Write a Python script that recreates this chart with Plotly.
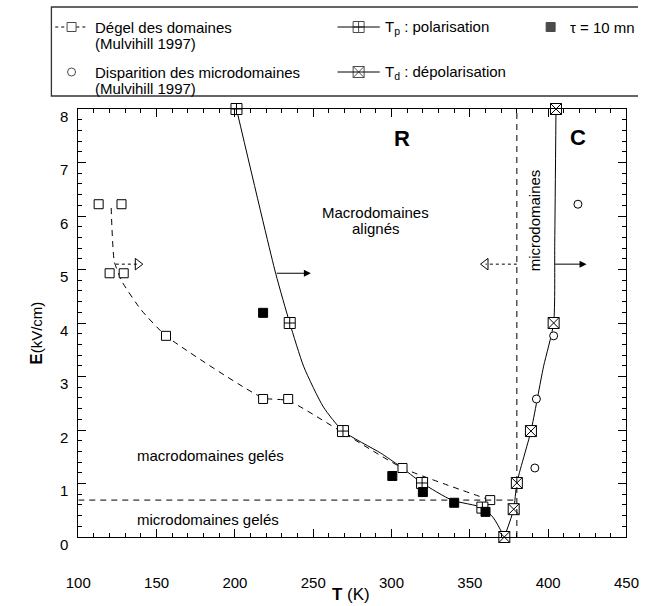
import plotly.graph_objects as go

FONT = "Liberation Sans, Arial, Helvetica, sans-serif"

# ---------------- data ----------------
# Dégel des domaines (Mulvihill 1997): open squares and the dashed guide curve
degel_T = [113, 127.6, 120, 129, 156, 218, 234, 307, 363]
degel_E = [6.22, 6.22, 4.93, 4.93, 3.76, 2.58, 2.58, 1.29, 0.69]
degel_curve_T = [121, 123, 128, 140, 156, 218, 234, 269, 307, 363]
degel_curve_E = [6.15, 5.15, 4.77, 4.25, 3.76, 2.60, 2.55, 1.95, 1.29, 0.69]

# Disparition des microdomaines (Mulvihill 1997): open circles
micro_T = [419, 403.5, 392.5, 391.5]
micro_E = [6.22, 3.76, 2.58, 1.29]

# Tp : polarisation
tp_T = [201, 235, 269, 319.5, 358]
tp_E = [8.0, 4.0, 1.98, 1.01, 0.55]
tp_curve_T = [201, 226, 235, 244, 256.5, 269, 293, 305, 319.5, 338.5, 358, 365, 372]
tp_curve_E = [8.0, 4.93, 4.0, 3.18, 2.43, 1.98, 1.57, 1.33, 1.01, 0.69, 0.55, 0.36, 0.0]

# Td : dépolarisation
td_T = [372, 378, 380, 389, 403.5, 405]
td_E = [0.0, 0.52, 1.01, 1.98, 4.0, 8.0]
td_curve_T = [372, 378, 380, 389, 397, 403.5, 404.2, 405]
td_curve_E = [0.0, 0.52, 1.01, 1.98, 3.18, 4.0, 5.5, 8.0]

# tau = 10 mn: filled squares
tau_T = [218, 300.5, 320, 340, 360]
tau_E = [4.19, 1.14, 0.84, 0.64, 0.47]

# region boundaries
E_frozen_micro = 0.69      # microdomaines gelés / macrodomaines gelés
T_micro_limit = 380        # vertical limit of the microdomain region

# arrows (start T, end T, E)
arrow_solid = [(225.7, 248.5, 4.93), (403.5, 424.5, 5.10)]
arrow_dotted = [(124, 138, 5.10), (380, 360, 5.10)]

T_TICKS = [100, 150, 200, 250, 300, 350, 400, 450]
E_TICKS = [0, 1, 2, 3, 4, 5, 6, 7, 8]

# ---------------- figure geometry (pixels) ----------------
W, H = 651, 606
PX_L, PX_R, PX_T, PX_B = 68, 639, 109, 537

fig = go.Figure()

# guide curves
fig.add_trace(go.Scatter(x=degel_curve_T, y=degel_curve_E, mode="lines",
                         line=dict(color="black", width=1, dash="6px,5px",
                                   shape="spline", smoothing=0.5),
                         hoverinfo="skip"))
fig.add_trace(go.Scatter(x=tp_curve_T, y=tp_curve_E, mode="lines",
                         line=dict(color="black", width=1, shape="spline", smoothing=0.6),
                         hoverinfo="skip"))
fig.add_trace(go.Scatter(x=td_curve_T, y=td_curve_E, mode="lines",
                         line=dict(color="black", width=1, shape="spline", smoothing=0.6),
                         hoverinfo="skip"))

# dotted arrows with open triangular heads
for t0, t1, e in arrow_dotted:
    sym = "triangle-right-open" if t1 > t0 else "triangle-left-open"
    fig.add_trace(go.Scatter(x=[t0, t1], y=[e, e], mode="lines",
                             line=dict(color="black", width=1, dash="dot"),
                             hoverinfo="skip"))
    fig.add_trace(go.Scatter(x=[t1], y=[e], mode="markers", cliponaxis=False,
                             marker=dict(symbol=sym, size=10, color="black",
                                         line=dict(width=1, color="black")),
                             hoverinfo="skip"))

# markers
marker_line = dict(color="black", width=1)
fig.add_trace(go.Scatter(x=degel_T, y=degel_E, mode="markers", cliponaxis=False,
                         marker=dict(symbol="square", size=9, color="white", line=marker_line)))
fig.add_trace(go.Scatter(x=micro_T, y=micro_E, mode="markers", cliponaxis=False,
                         marker=dict(symbol="circle", size=8, color="white", line=marker_line)))
fig.add_trace(go.Scatter(x=tp_T, y=tp_E, mode="markers", cliponaxis=False,
                         marker=dict(symbol="square-cross", size=11, color="white", line=marker_line)))
fig.add_trace(go.Scatter(x=td_T, y=td_E, mode="markers", cliponaxis=False,
                         marker=dict(symbol="square-x", size=11, color="white", line=marker_line)))
fig.add_trace(go.Scatter(x=tau_T, y=tau_E, mode="markers", cliponaxis=False,
                         marker=dict(symbol="square", size=9, color="black", line=marker_line)))

# invisible trace carrying the top / right tick axes
fig.add_trace(go.Scatter(x=[100], y=[0], xaxis="x3", yaxis="y3", mode="markers",
                         marker=dict(opacity=0), hoverinfo="skip"))

# region boundaries
fig.add_shape(type="line", xref="x", yref="y", x0=100, x1=T_micro_limit,
              y0=E_frozen_micro, y1=E_frozen_micro,
              line=dict(color="black", width=1, dash="6px,5px"))
fig.add_shape(type="line", xref="x", yref="y", x0=T_micro_limit, x1=T_micro_limit,
              y0=0, y1=8, line=dict(color="black", width=1, dash="6px,5px"))

# solid arrows
for t0, t1, e in arrow_solid:
    fig.add_annotation(x=t1, y=e, ax=t0, ay=e, xref="x", yref="y", axref="x", ayref="y",
                       text="", showarrow=True, arrowhead=2, arrowsize=1.4,
                       arrowwidth=1, arrowcolor="black")

# region labels
def label(text, x, y, size=15, bold=False, angle=0, xanchor="center"):
    if bold:
        text = "<b>" + text + "</b>"
    fig.add_annotation(x=x, y=y, xref="x", yref="y", text=text, showarrow=False,
                       textangle=angle, xanchor=xanchor, yanchor="middle",
                       font=dict(family=FONT, size=size, color="black"))

label("R", 306.6, 7.45, size=22, bold=True)
label("C", 419, 7.47, size=22, bold=True)
label("Macrodomaines", 290, 6.07)
label("alignés", 290, 5.77)
label("microdomaines", 391, 5.92, angle=-90)
label("macrodomaines gelés", 136, 1.53, xanchor="left")
label("microdomaines gelés", 136, 0.32, xanchor="left")

# y tick labels
for v in E_TICKS:
    fig.add_annotation(x=0, y=v, xref="x domain", yref="y", text=str(v), showarrow=False,
                       xanchor="right", yanchor="middle", xshift=-8, yshift=-7,
                       font=dict(family=FONT, size=15, color="black"))

# axis titles
fig.add_annotation(x=25, y=3.8, xref="x2", yref="y", showarrow=False, textangle=-90,
                   text="<b><span style='font-size:17px'>E</span></b>(kV/cm)",
                   font=dict(family=FONT, size=15, color="black"))
fig.add_annotation(x=352, y=594, xref="x2", yref="y2", showarrow=False,
                   text="<b>T</b> (K)", font=dict(family=FONT, size=17, color="black"))

# ---------------- key box (pixel coordinates on the full-page axes) ----------------
ROW1, ROW2, SUB = 27, 72, 16
fig.add_shape(type="rect", xref="x2", yref="y2", x0=40, x1=700, y0=7, y1=96,
              line=dict(color="#333333", width=1.3))
# dashed sample with open square
fig.add_shape(type="line", xref="x2", yref="y2", x0=44, x1=56, y0=ROW1, y1=ROW1,
              line=dict(color="black", width=1, dash="3px,3px"))
fig.add_shape(type="line", xref="x2", yref="y2", x0=66, x1=78, y0=ROW1, y1=ROW1,
              line=dict(color="black", width=1, dash="3px,3px"))
# Tp / Td samples
for yy in (ROW1, ROW2):
    fig.add_shape(type="line", xref="x2", yref="y2", x0=338, x1=382, y0=yy, y1=yy,
                  line=dict(color="black", width=1))
key_x = [61, 61, 360, 360, 560]
key_y = [ROW1, ROW2, ROW1, ROW2, ROW1]
key_sym = ["square", "circle", "square-cross", "square-x", "square"]
key_fill = ["white", "white", "white", "white", "black"]
key_size = [9, 8, 11, 11, 9]
fig.add_trace(go.Scatter(x=key_x, y=key_y, xaxis="x2", yaxis="y2", mode="markers",
                         cliponaxis=False,
                         marker=dict(symbol=key_sym, size=key_size, color=key_fill,
                                     line=marker_line), hoverinfo="skip"))

def key_text(text, x, y):
    fig.add_annotation(x=x, y=y, xref="x2", yref="y2", text=text, showarrow=False,
                       xanchor="left", yanchor="middle",
                       font=dict(family=FONT, size=15, color="black"))

key_text("Dégel des domaines", 83, ROW1)
key_text("(Mulvihill 1997)", 83, ROW1 + SUB)
key_text("Disparition des microdomaines", 83, ROW2)
key_text("(Mulvihill 1997)", 83, ROW2 + SUB)
key_text("T<sub>p</sub> : polarisation", 385, ROW1)
key_text("T<sub>d</sub> : dépolarisation", 385, ROW2)
key_text("τ = 10 mn", 578, ROW1)

tick_common = dict(ticks="inside", ticklen=8, tickwidth=1, tickcolor="black",
                   showgrid=False, zeroline=False)
x_minor = dict(tick0=100, dtick=10, ticks="inside", ticklen=4, tickcolor="black", tickwidth=1)
y_minor = dict(tick0=0, dtick=0.2, ticks="inside", ticklen=4, tickcolor="black", tickwidth=1)
x_dom = [PX_L / W, PX_R / W]
y_dom = [(H - PX_B) / H, (H - PX_T) / H]

fig.update_layout(
    width=W, height=H, margin=dict(l=0, r=0, t=0, b=0),
    paper_bgcolor="white", plot_bgcolor="rgba(0,0,0,0)",
    showlegend=False,
    font=dict(family=FONT, size=15, color="black"),
    xaxis=dict(domain=x_dom, range=[100, 450], anchor="y",
               tickmode="array", tickvals=T_TICKS, minor=x_minor,
               showline=True, linecolor="black", linewidth=1, mirror=True,
               tickfont=dict(family=FONT, size=15, color="black"),
               ticklabelstandoff=32, ticklabeloverflow="allow", **tick_common),
    yaxis=dict(domain=y_dom, range=[0, 8], anchor="x",
               tickmode="array", tickvals=E_TICKS, showticklabels=False, minor=y_minor,
               showline=True, linecolor="black", linewidth=1, mirror=True,
               **tick_common),
    # top and right tick axes
    xaxis3=dict(overlaying="x", anchor="y", side="top", range=[100, 450],
                tickmode="array", tickvals=T_TICKS, minor=x_minor,
                showticklabels=False, showline=False, **tick_common),
    yaxis3=dict(overlaying="y", anchor="x", side="right", range=[0, 8],
                tickmode="array", tickvals=E_TICKS, minor=y_minor,
                showticklabels=False, showline=False, **tick_common),
    xaxis2=dict(domain=[0, 1], range=[0, W], visible=False, anchor="y2"),
    yaxis2=dict(domain=[0, 1], range=[H, 0], visible=False, anchor="x2"),
)

fig.write_html("out.html")
